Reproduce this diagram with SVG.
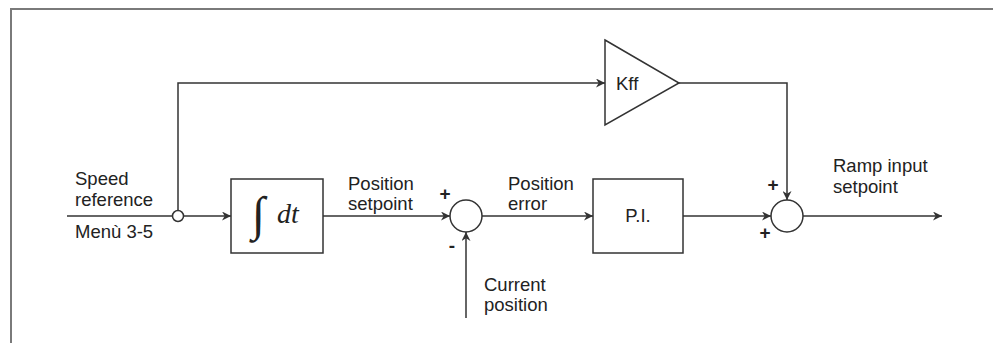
<svg xmlns="http://www.w3.org/2000/svg" width="993" height="343" viewBox="0 0 993 343">
  <style>
    .ln { fill: none; stroke: #333; stroke-width: 1.5; }
    .shape { fill: #fff; stroke: #333; stroke-width: 1.5; }
    .lbl { font-family: "Liberation Sans", Arial, sans-serif; font-size: 18.5px; fill: #222; }
    .sign { font-family: "Liberation Sans", Arial, sans-serif; font-size: 19px; font-weight: bold; fill: #222; }
    .math { font-family: "Liberation Serif", "Times New Roman", serif; font-style: italic; fill: #222; }
  </style>
  <defs>
    <marker id="arrow" viewBox="0 0 10 10" refX="10" refY="5" markerWidth="9" markerHeight="9" markerUnits="userSpaceOnUse" orient="auto">
      <path d="M0,0 L10,5 L0,10 L3,5 Z" fill="#333"/>
    </marker>
  </defs>

  <!-- frame -->
  <path d="M11,343 V9 H993" fill="none" stroke="#7a7a7a" stroke-width="2"/>

  <!-- connectors -->
  <g id="connectors">
    <line class="ln" x1="67" y1="216" x2="172" y2="216"/>
    <line class="ln" x1="184" y1="216" x2="231" y2="216" marker-end="url(#arrow)"/>
    <polyline class="ln" points="178,210.5 178,83 605,83" marker-end="url(#arrow)"/>
    <line class="ln" x1="323" y1="216" x2="450" y2="216" marker-end="url(#arrow)"/>
    <line class="ln" x1="466" y1="318" x2="466" y2="232" marker-end="url(#arrow)"/>
    <line class="ln" x1="482" y1="216" x2="593" y2="216" marker-end="url(#arrow)"/>
    <line class="ln" x1="683" y1="216" x2="771" y2="216" marker-end="url(#arrow)"/>
    <polyline class="ln" points="679,83 787,83 787,200" marker-end="url(#arrow)"/>
    <line class="ln" x1="803" y1="216" x2="942" y2="216" marker-end="url(#arrow)"/>
  </g>

  <!-- branch point -->
  <g id="branch">
    <circle class="shape" cx="178" cy="216" r="5.5"/>
  </g>

  <!-- integrator -->
  <g id="integrator">
    <rect class="shape" x="231" y="179" width="92" height="74"/>
    <text class="math" x="252" y="230" font-size="48" font-style="normal">∫</text>
    <text class="math" x="277" y="223" font-size="28">dt</text>
  </g>

  <!-- position error summing junction -->
  <g id="sum-error">
    <circle class="shape" cx="466" cy="216" r="16"/>
    <text class="sign" x="445" y="200" text-anchor="middle">+</text>
    <text class="sign" x="452" y="252" text-anchor="middle">-</text>
  </g>

  <!-- PI controller -->
  <g id="pi">
    <rect class="shape" x="593" y="179" width="90" height="74"/>
    <text class="lbl" x="638" y="222" text-anchor="middle">P.I.</text>
  </g>

  <!-- feed-forward gain -->
  <g id="kff">
    <polygon class="shape" points="605,40 679,83 605,125"/>
    <text class="lbl" x="616" y="90">Kff</text>
  </g>

  <!-- output summing junction -->
  <g id="sum-out">
    <circle class="shape" cx="787" cy="216" r="16"/>
    <text class="sign" x="773" y="191" text-anchor="middle">+</text>
    <text class="sign" x="765" y="239" text-anchor="middle">+</text>
  </g>

  <!-- signal labels -->
  <g id="labels">
    <text class="lbl" x="75" y="185">Speed</text>
    <text class="lbl" x="75" y="206">reference</text>
    <text class="lbl" x="75" y="238">Menù 3-5</text>
    <text class="lbl" x="348" y="190">Position</text>
    <text class="lbl" x="348" y="210">setpoint</text>
    <text class="lbl" x="508" y="190">Position</text>
    <text class="lbl" x="508" y="210">error</text>
    <text class="lbl" x="484" y="291">Current</text>
    <text class="lbl" x="484" y="311">position</text>
    <text class="lbl" x="833" y="172">Ramp input</text>
    <text class="lbl" x="833" y="193">setpoint</text>
  </g>
</svg>
